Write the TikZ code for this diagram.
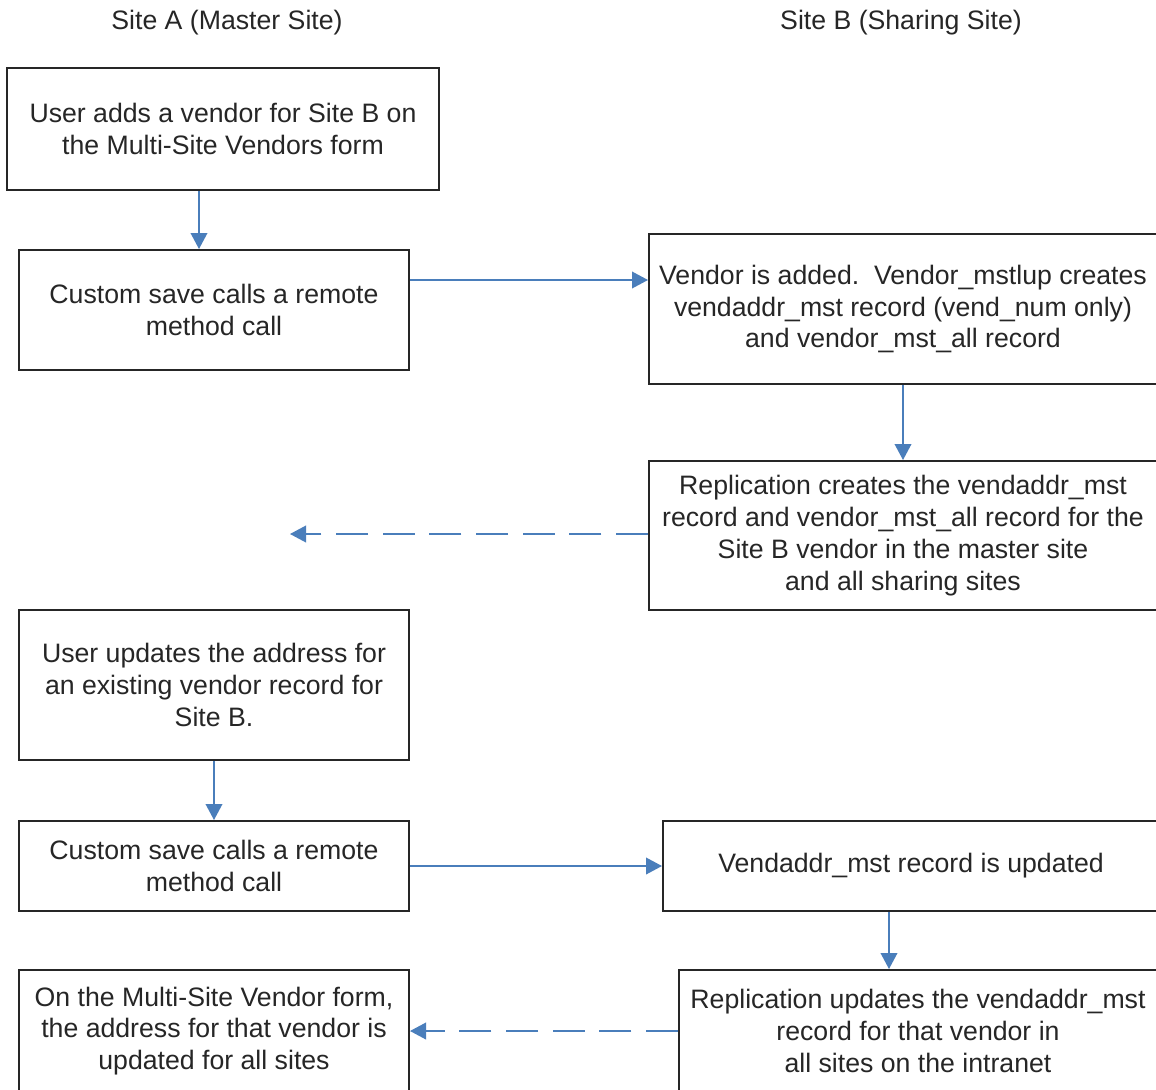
\documentclass[tikz,border=0pt]{standalone}
\usepackage{fontspec}
\setmainfont{Liberation Sans}
\usetikzlibrary{arrows.meta,calc}
\definecolor{arrblue}{HTML}{4A7EBB}
\definecolor{txtgray}{HTML}{262626}
\tikzset{
  box/.style={draw=txtgray, line width=1.5pt, fill=white, align=center, inner sep=0pt,
    text=txtgray, font=\fontsize{20}{23.8}\selectfont},
  hdr/.style={text=txtgray, font=\fontsize{20}{23.8}\selectfont, inner sep=0pt},
  arr/.style={draw=arrblue, line width=1.2pt, -{Triangle[length=12pt,width=12.5pt]}},
  darr/.style={arr, dash pattern=on 24pt off 11pt}
}
\begin{document}
\begin{tikzpicture}[x=0.75pt,y=-0.75pt]
\useasboundingbox (0,0) rectangle (1156,1089);
\fill[white] (0,0) rectangle (1156,1089);

\node[hdr] (hA) at (227,23) {Site A (Master Site)};
\node[hdr] (hB) at (901,23) {Site B (Sharing Site)};

\node[box, minimum width=324pt, minimum height=91.5pt] (A1) at (223,129)
  {User adds a vendor for Site B on\\the Multi-Site Vendors form};
\node[box, minimum width=292.5pt, minimum height=90pt] (A2) at (214,310)
  {Custom save calls a remote\\method call};
\node[box, minimum width=381pt, minimum height=112.5pt] (B1) at (903,309)
  {Vendor is added.~~Vendor\_mstlup creates\\vendaddr\_mst record (vend\_num only)\\and vendor\_mst\_all record};
\node[box, minimum width=381pt, minimum height=111.75pt] (B2) at (903,535.5)
  {Replication creates the vendaddr\_mst\\record and vendor\_mst\_all record for the\\Site B vendor in the master site\\and all sharing sites};
\node[box, minimum width=292.5pt, minimum height=112.5pt] (A3) at (214,685)
  {User updates the address for\\an existing vendor record for\\Site B.};
\node[box, minimum width=292.5pt, minimum height=67.5pt] (A4) at (214,866)
  {Custom save calls a remote\\method call};
\node[box, minimum width=372pt, minimum height=67.5pt] (B3) at (911,866)
  {Vendaddr\_mst record is updated};
\node[box, minimum width=292.5pt, minimum height=91.5pt] (A5) at (214,1031)
  {On the Multi-Site Vendor form,\\the address for that vendor is\\updated for all sites};
\node[box, minimum width=358.5pt, minimum height=91.5pt] (B4) at (918,1031)
  {Replication updates the vendaddr\_mst\\record for that vendor in\\all sites on the intranet};

\coordinate (d1) at (290,534);

\draw[arr] ([xshift=-18pt]A1.south) -- ([xshift=-18pt]A1.south |- A2.north);
\draw[arr] ([yshift=22.5pt]A2.east) -- ([yshift=22.5pt]A2.east -| B1.west);
\draw[arr] (B1.south) -- (B2.north);
\draw[darr] (B2.west |- d1) -- (d1);
\draw[arr] (A3.south) -- (A4.north);
\draw[arr] (A4.east) -- (A4.east -| B3.west);
\draw[arr] ([xshift=-16.5pt]B3.south) -- ([xshift=-16.5pt]B3.south |- B4.north);
\draw[darr] (B4.west |- A5.east) -- (A5.east);
\end{tikzpicture}
\end{document}
